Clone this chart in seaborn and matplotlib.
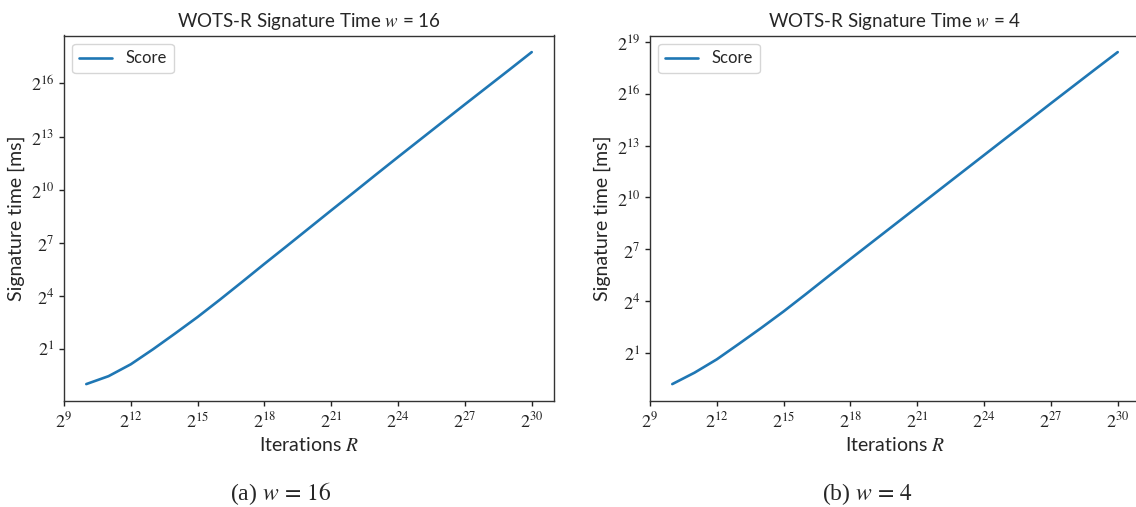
import numpy as np
import pandas as pd
import matplotlib
matplotlib.use("Agg")
import matplotlib.pyplot as plt
from matplotlib.ticker import FixedLocator, FuncFormatter, NullLocator
import seaborn as sns

# Number of hash-chain iterations R (powers of two, 2^10 .. 2^30)
iterations = [2 ** k for k in range(10, 31)]

# Measured signature time in milliseconds, Winternitz parameter w = 16
time_w16 = [0.511, 0.697, 1.11, 2.00, 3.73, 7.06, 13.9, 27.9, 56.5, 113.0,
            227.5, 458.3, 916.6, 1846, 3691, 7332, 14565, 28920, 57050,
            112530, 223500]

# Measured signature time in milliseconds, Winternitz parameter w = 4
time_w4 = [0.582, 0.920, 1.569, 2.93, 5.54, 10.70, 21.4, 43.4, 87.4, 174.9,
           349.7, 699.5, 1399, 2798, 5595, 11190, 22230, 44450, 88290,
           175370, 345900]

panels = [("16", "(a)", time_w16), ("4", "(b)", time_w4)]
x_tick_exp = list(range(9, 34, 3))
y_tick_exp = list(range(-2, 22, 3))

sns.set_theme(style="ticks", palette=["#1f77b4"])
plt.rcParams["font.family"] = ["Lato", "DejaVu Sans"]
plt.rcParams["mathtext.fontset"] = "stix"
plt.rcParams["axes.edgecolor"] = "#333333"
plt.rcParams["axes.linewidth"] = 1.0

fig = plt.figure(figsize=(11.36, 5.07), dpi=100)
W, H = 1136, 507
ax_w, ax_h = 490 / W, 365.2 / H
ax_bottom = (H - 400.7) / H
lefts = [64 / W, 650 / W]
caption_x = [281 / W, 868 / W]

pow2 = FuncFormatter(lambda v, pos: rf"$2^{{{int(round(np.log2(v)))}}}$")

for (w, tag, values), left, cx in zip(panels, lefts, caption_x):
    ax = fig.add_axes([left, ax_bottom, ax_w, ax_h])
    df = pd.DataFrame({"iterations": iterations, "time": values})
    sns.lineplot(data=df, x="iterations", y="time", label="Score", ax=ax,
                 linewidth=1.9)
    ax.set_xscale("log", base=2)
    ax.set_yscale("log", base=2)
    ax.margins(0.05)
    ax.autoscale_view()
    ax.xaxis.set_major_locator(FixedLocator([2.0 ** e for e in x_tick_exp]))
    ax.yaxis.set_major_locator(FixedLocator([2.0 ** e for e in y_tick_exp]))
    ax.xaxis.set_minor_locator(NullLocator())
    ax.yaxis.set_minor_locator(NullLocator())
    ax.xaxis.set_major_formatter(pow2)
    ax.yaxis.set_major_formatter(pow2)
    ax.tick_params(axis="both", labelsize=13, length=3.5, width=1.0,
                   colors="#222222", top=False, right=False)
    for sp in ax.spines.values():
        sp.set_visible(True)
        sp.set_color("#333333")
    ax.set_title(f"WOTS-R Signature Time $w$ = {w}", fontsize=13.5, pad=6)
    ax.set_xlabel("Iterations $R$", fontsize=14)
    ax.set_ylabel("Signature time [ms]", fontsize=14)
    leg = ax.legend(loc="upper left", fontsize=12, frameon=True, fancybox=True)
    leg.get_frame().set_edgecolor("#cccccc")
    fig.text(cx, (H - 500) / H, f"{tag} $w\\,=\\,{w}$", ha="center",
             va="baseline", fontsize=17,
             family=["Liberation Serif", "DejaVu Serif"])

fig.savefig("out.png", dpi=100)
